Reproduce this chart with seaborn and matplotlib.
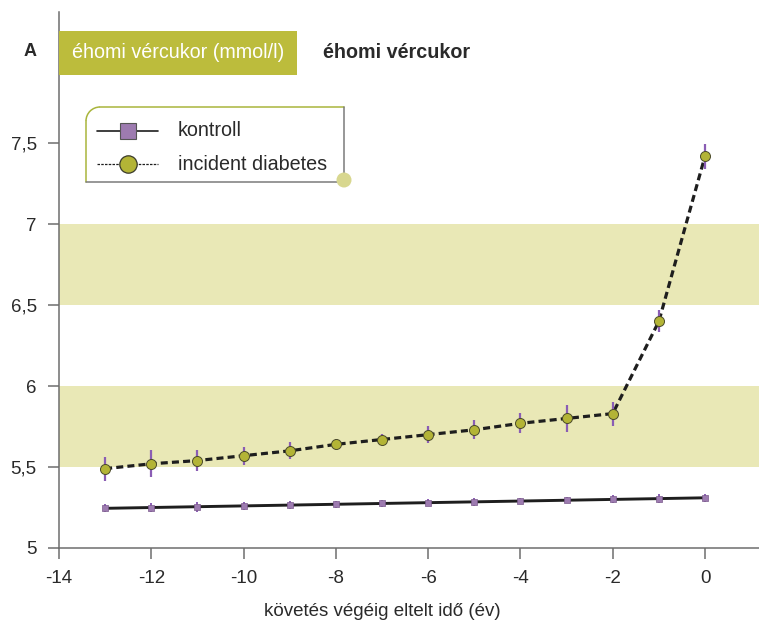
import numpy as np
import pandas as pd
import matplotlib
matplotlib.use("Agg")
import matplotlib.pyplot as plt
import matplotlib.transforms as mtransforms
from matplotlib.lines import Line2D
from matplotlib.patches import Rectangle, Circle, Arc
import seaborn as sns

# ---------------- data ----------------
years = [-13, -12, -11, -10, -9, -8, -7, -6, -5, -4, -3, -2, -1, 0]
diabetes = [5.49, 5.52, 5.54, 5.57, 5.60, 5.64, 5.67, 5.70, 5.73, 5.77, 5.80, 5.83, 6.40, 7.42]
diabetes_err = [0.074, 0.083, 0.065, 0.056, 0.052, 0.034, 0.037, 0.052, 0.059, 0.062, 0.083, 0.074, 0.068, 0.077]
kontroll = [5.245, 5.25, 5.255, 5.26, 5.265, 5.27, 5.275, 5.28, 5.285, 5.29, 5.295, 5.30, 5.305, 5.31]
kontroll_err = [0.025, 0.03, 0.03, 0.025, 0.025, 0.02, 0.02, 0.02, 0.025, 0.02, 0.02, 0.025, 0.03, 0.025]
x_ticks = [-14, -12, -10, -8, -6, -4, -2, 0]
y_ticks = [5, 5.5, 6, 6.5, 7, 7.5]
y_ticklabels = ["5", "5,5", "6", "6,5", "7", "7,5"]
bands = [(5.5, 6.0), (6.5, 7.0)]
series_names = ["kontroll", "incident diabetes"]
header_label = "éhomi vércukor (mmol/l)"
title_label = "éhomi vércukor"
panel_label = "A"
x_label = "követés végéig eltelt idő (év)"

# ---------------- style ----------------
sns.set_theme(style="white")
plt.rcParams["font.family"] = ["Liberation Sans", "DejaVu Sans"]

OLIVE = "#bcbc3c"
BAND = "#e9e8b6"
PURPLE_BAR = "#8a5db4"
PURPLE_SQ = "#9d7bb0"
CIRCLE = "#b3b436"
SPINE = "#6e6e6e"
TXT = "#2a2a2a"
FS = 13.5

W, H = 759, 632
fig = plt.figure(figsize=(W / 100, H / 100), dpi=100)
ax = fig.add_axes([59 / W, 1 - 548 / H, 700 / W, (548 - 12) / H])

# pixel transform (y down, origin top-left)
px = mtransforms.Affine2D().scale(1 / 100, -1 / 100).translate(0, H / 100) + fig.dpi_scale_trans

for lo, hi in bands:
    ax.axhspan(lo, hi, color=BAND, lw=0, zorder=0)

df_d = pd.DataFrame({"year": years, "value": diabetes})
df_k = pd.DataFrame({"year": years, "value": kontroll})

sns.lineplot(data=df_k, x="year", y="value", ax=ax, color="#1e1e1e", lw=2.1,
             zorder=2, legend=False)
sns.lineplot(data=df_d, x="year", y="value", ax=ax, color="#1e1e1e", lw=2.3,
             linestyle=(0, (2.2, 1.3)), zorder=2, legend=False)

ax.vlines(years, np.array(kontroll) - np.array(kontroll_err),
          np.array(kontroll) + np.array(kontroll_err), color=PURPLE_BAR, lw=1.4, zorder=3)
ax.vlines(years, np.array(diabetes) - np.array(diabetes_err),
          np.array(diabetes) + np.array(diabetes_err), color=PURPLE_BAR, lw=1.6, zorder=3)

sns.scatterplot(data=df_k, x="year", y="value", ax=ax, marker="s", s=16,
                color=PURPLE_SQ, edgecolor="#7a5a8c", linewidth=0.5, zorder=4, legend=False)
sns.scatterplot(data=df_d, x="year", y="value", ax=ax, marker="o", s=52,
                color=CIRCLE, edgecolor="#4a4a2a", linewidth=0.7, zorder=4, legend=False)

ax.set_xlim(-14, 1.17)
ax.set_ylim(5, 8.31)
ax.set_xticks(x_ticks)
ax.set_xticklabels([str(t) for t in x_ticks])
ax.set_yticks(y_ticks)
ax.set_yticklabels(y_ticklabels)

for s in ["top", "right"]:
    ax.spines[s].set_visible(False)
for s in ["left", "bottom"]:
    ax.spines[s].set_color(SPINE)
    ax.spines[s].set_linewidth(1.1)
ax.tick_params(axis="both", direction="out", length=8, width=1.1, color=SPINE,
               labelsize=FS, labelcolor=TXT, pad=8)
ax.tick_params(axis="x", bottom=True)
ax.tick_params(axis="y", left=True)

ax.set_xlabel(x_label, fontsize=FS, color=TXT, va="center")
ax.set_ylabel("")
ax.xaxis.set_label_coords((382 - 59) / 700, (548 - 612) / 536)

# ---------------- header ----------------
fig.add_artist(Rectangle((59, 75), 238, -44, transform=px, facecolor=OLIVE,
                         edgecolor="none", zorder=5))
fig.text(72 / W, 1 - 53 / H, header_label, color="white", fontsize=14.2,
         va="center", ha="left", zorder=6)
fig.text(323 / W, 1 - 53 / H, title_label, color=TXT, fontsize=14.2,
         fontweight="bold", va="center", ha="left")
fig.text(30 / W, 1 - 52 / H, panel_label, color=TXT, fontsize=13,
         fontweight="bold", va="center", ha="center")

# ---------------- legend ----------------
L, T, R, B, rad = 86, 107, 344, 182, 14
legend_olive = "#a9b53c"
legend_grey = "#7a7a7a"
fig.add_artist(Rectangle((L, B), R - L, -(B - T), transform=px, facecolor="white",
                         edgecolor="none", zorder=5))
fig.add_artist(Line2D([L + rad, R], [T, T], transform=px, color=legend_olive, lw=1.1, zorder=6))
fig.add_artist(Line2D([L, L], [T + rad, B], transform=px, color=legend_olive, lw=1.1, zorder=6))
fig.add_artist(Arc((L + rad, T + rad), 2 * rad, 2 * rad, theta1=180, theta2=270,
                   transform=px, color=legend_olive, lw=1.1, zorder=6))
fig.add_artist(Line2D([L, R], [B, B], transform=px, color=legend_grey, lw=1.1, zorder=6))
fig.add_artist(Line2D([R, R], [T, B], transform=px, color=legend_grey, lw=1.1, zorder=6))
fig.add_artist(Circle((R, B - 2), 7.5, transform=px, facecolor="#d8d78f",
                      edgecolor="none", zorder=7))

fig.add_artist(Line2D([97, 158], [131, 131], transform=px, color="#1e1e1e", lw=1.2, zorder=7))
fig.add_artist(Line2D([128], [131], transform=px, marker="s", markersize=11,
                      markerfacecolor=PURPLE_SQ, markeredgecolor="#555555",
                      markeredgewidth=0.8, lw=0, zorder=8))
fig.add_artist(Line2D([97, 158], [164, 164], transform=px, color="#1e1e1e", lw=0.9,
                      linestyle=(0, (2, 1)), zorder=7))
fig.add_artist(Line2D([128], [164], transform=px, marker="o", markersize=12.5,
                      markerfacecolor=CIRCLE, markeredgecolor="#3a3a2a",
                      markeredgewidth=0.9, lw=0, zorder=8))
fig.text(178 / W, 1 - 131 / H, series_names[0], fontsize=14.2, color=TXT,
         va="center", ha="left", zorder=8)
fig.text(178 / W, 1 - 164 / H, series_names[1], fontsize=14.2, color=TXT,
         va="center", ha="left", zorder=8)

fig.savefig("out.png", dpi=100)
